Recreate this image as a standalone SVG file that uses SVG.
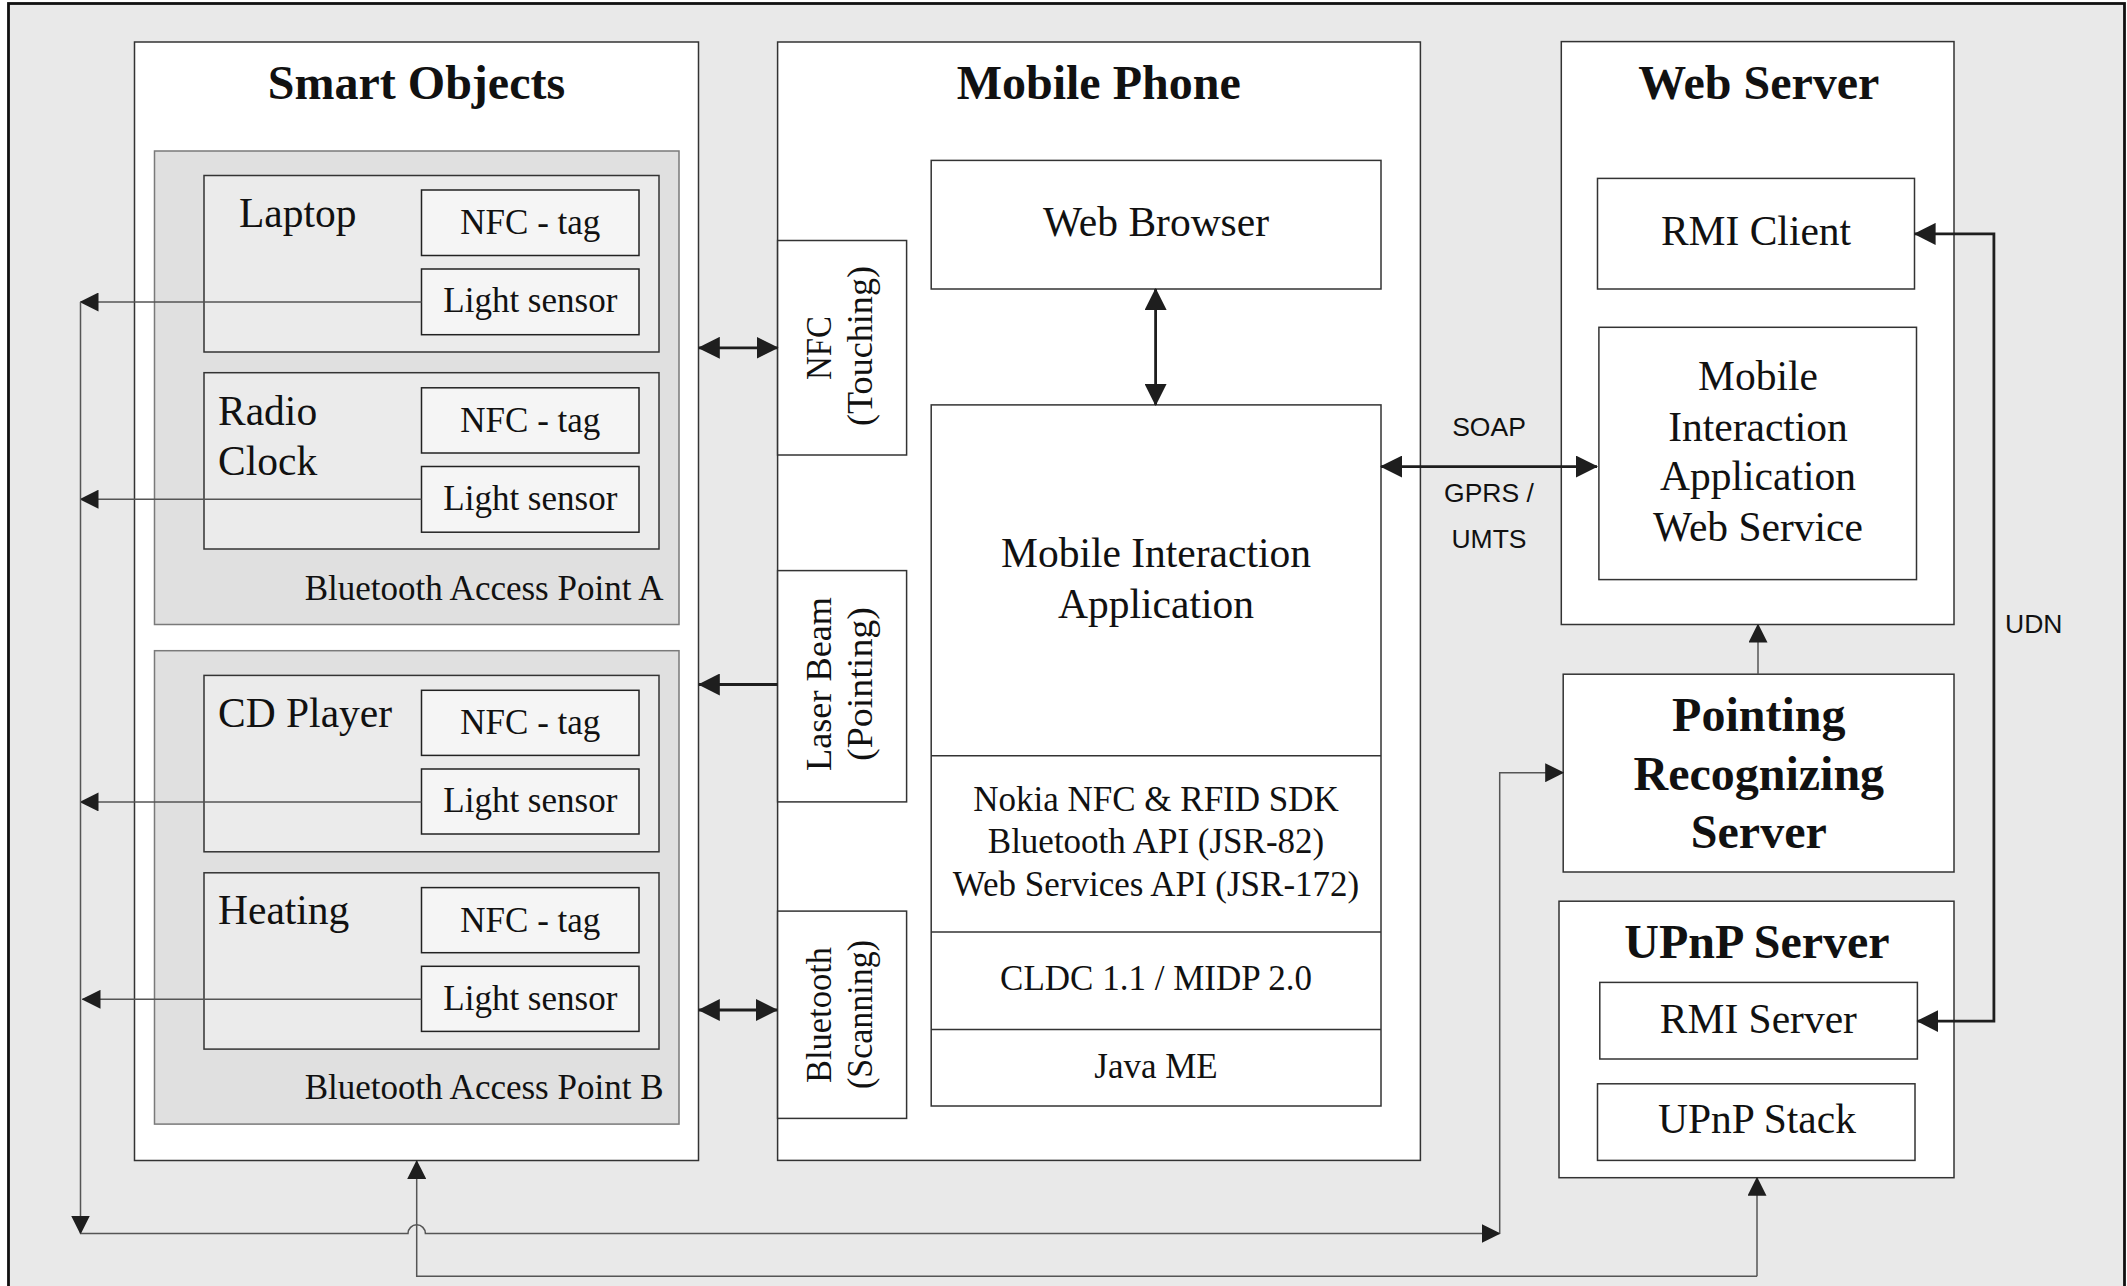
<svg xmlns="http://www.w3.org/2000/svg" width="2127" height="1286" viewBox="0 0 2127 1286">
<style>
.box{fill:#fff;stroke:#333;stroke-width:1.5}
.bap{fill:#e0e0e0;stroke:#7a7a7a;stroke-width:1.5}
.dev{fill:#ebebeb;stroke:#333;stroke-width:1.5}
.comp{fill:#f5f5f5;stroke:#222;stroke-width:1.5}
.t{font-family:"Liberation Serif","Times New Roman",serif;fill:#111}
.title{font-weight:bold;font-size:48px;text-anchor:middle}
.lg{font-size:41.5px}
.md{font-size:35px}
.mid{text-anchor:middle}
.end{text-anchor:end}
.sans{font-family:"Liberation Sans",Arial,sans-serif;font-size:26.5px;fill:#111}
.thin{fill:none;stroke:#555;stroke-width:1.5}
.thick{fill:none;stroke:#1e1e1e;stroke-width:2.8}
.sep{stroke:#333;stroke-width:1.5}
</style>
<defs>
<marker id="ah" markerUnits="userSpaceOnUse" viewBox="0 0 22 22" refX="21" refY="11" markerWidth="22" markerHeight="22" orient="auto-start-reverse">
<path d="M0,0 L22,11 L0,22 z" fill="#1e1e1e"/>
</marker>
<marker id="as" markerUnits="userSpaceOnUse" viewBox="0 0 19 19" refX="18" refY="9.5" markerWidth="19" markerHeight="19" orient="auto-start-reverse">
<path d="M0,0 L19,9.5 L0,19 z" fill="#1e1e1e"/>
</marker>
</defs>

<g id="background">
<rect x="0" y="0" width="2127" height="1286" fill="#fff"/>
<rect x="8.5" y="3.5" width="2116" height="1300" fill="#e9e9e9" stroke="#111" stroke-width="2.8"/>
</g>

<g id="smart-objects">
<rect class="box" x="134.5" y="42" width="564" height="1118.5"/>
<text class="t title" x="416.5" y="99">Smart Objects</text>
</g>

<g id="bap-a">
<rect class="bap" x="154.5" y="151" width="524.5" height="473.5"/>
<text class="t md end" x="663.5" y="600">Bluetooth Access Point A</text>
</g>
<g id="laptop">
<rect class="dev" x="204" y="175.5" width="455" height="176.5"/>
<text class="t lg" x="239" y="227">Laptop</text>
<rect class="comp" x="421.5" y="190" width="217.5" height="65.5"/>
<text class="t md mid" x="530.3" y="234">NFC - tag</text>
<rect class="comp" x="421.5" y="269" width="217.5" height="65.7"/>
<text class="t md mid" x="530.3" y="312">Light sensor</text>
</g>
<g id="radio-clock">
<rect class="dev" x="204" y="372.7" width="455" height="176.3"/>
<text class="t lg" x="218" y="424.5">Radio</text>
<text class="t lg" x="218" y="474.7">Clock</text>
<rect class="comp" x="421.5" y="387.8" width="217.5" height="65.2"/>
<text class="t md mid" x="530.3" y="431.8">NFC - tag</text>
<rect class="comp" x="421.5" y="466.5" width="217.5" height="65.7"/>
<text class="t md mid" x="530.3" y="509.7">Light sensor</text>
</g>

<g id="bap-b">
<rect class="bap" x="154.5" y="650.7" width="524.5" height="473.4"/>
<text class="t md end" x="663.5" y="1099.4">Bluetooth Access Point B</text>
</g>
<g id="cd-player">
<rect class="dev" x="204" y="675.4" width="455" height="176.4"/>
<text class="t lg" x="218" y="726.5">CD Player</text>
<rect class="comp" x="421.5" y="690.3" width="217.5" height="65.1"/>
<text class="t md mid" x="530.3" y="734.3">NFC - tag</text>
<rect class="comp" x="421.5" y="769" width="217.5" height="65"/>
<text class="t md mid" x="530.3" y="812">Light sensor</text>
</g>
<g id="heating">
<rect class="dev" x="204" y="872.8" width="455" height="176.3"/>
<text class="t lg" x="218" y="923.5">Heating</text>
<rect class="comp" x="421.5" y="887.6" width="217.5" height="65.1"/>
<text class="t md mid" x="530.3" y="931.6">NFC - tag</text>
<rect class="comp" x="421.5" y="966.3" width="217.5" height="65.1"/>
<text class="t md mid" x="530.3" y="1009.5">Light sensor</text>
</g>

<g id="mobile-phone">
<rect class="box" x="777.6" y="42" width="642.8" height="1118.4"/>
<text class="t title" x="1098.7" y="99">Mobile Phone</text>
</g>
<g id="web-browser">
<rect class="box" x="931.2" y="160.4" width="449.8" height="128.6"/>
<text class="t lg mid" x="1156" y="236">Web Browser</text>
</g>
<g id="mobile-interaction-application">
<rect class="box" x="931.2" y="404.9" width="449.8" height="701.1"/>
<line class="sep" x1="931.2" y1="755.8" x2="1381" y2="755.8"/>
<line class="sep" x1="931.2" y1="932.1" x2="1381" y2="932.1"/>
<line class="sep" x1="931.2" y1="1029.4" x2="1381" y2="1029.4"/>
<text class="t lg mid" x="1156" y="566.5">Mobile Interaction</text>
<text class="t lg mid" x="1156" y="618.4">Application</text>
<text class="t md mid" x="1156" y="811">Nokia NFC &amp; RFID SDK</text>
<text class="t md mid" x="1156" y="853.4">Bluetooth API (JSR-82)</text>
<text class="t md mid" x="1156" y="895.5">Web Services API (JSR-172)</text>
<text class="t md mid" x="1156" y="990.2">CLDC 1.1 / MIDP 2.0</text>
<text class="t md mid" x="1156" y="1078">Java ME</text>
</g>
<g id="nfc-touching">
<rect class="box" x="777.6" y="240.5" width="129" height="214.5"/>
<text class="t md mid" transform="translate(831,348) rotate(-90)" textLength="64" lengthAdjust="spacingAndGlyphs">NFC</text>
<text class="t md mid" transform="translate(872,346) rotate(-90)" textLength="160" lengthAdjust="spacingAndGlyphs">(Touching)</text>
</g>
<g id="laser-beam-pointing">
<rect class="box" x="777.6" y="570.6" width="129" height="231.3"/>
<text class="t md mid" transform="translate(831,684) rotate(-90)" textLength="174" lengthAdjust="spacingAndGlyphs">Laser Beam</text>
<text class="t md mid" transform="translate(872,684) rotate(-90)" textLength="154" lengthAdjust="spacingAndGlyphs">(Pointing)</text>
</g>
<g id="bluetooth-scanning">
<rect class="box" x="777.6" y="911.1" width="129" height="207.3"/>
<text class="t md mid" transform="translate(831,1015) rotate(-90)" textLength="136" lengthAdjust="spacingAndGlyphs">Bluetooth</text>
<text class="t md mid" transform="translate(872,1014.5) rotate(-90)" textLength="149" lengthAdjust="spacingAndGlyphs">(Scanning)</text>
</g>

<g id="web-server">
<rect class="box" x="1561.3" y="41.6" width="392.7" height="582.9"/>
<text class="t title" x="1758.8" y="99">Web Server</text>
</g>
<g id="rmi-client">
<rect class="box" x="1597.5" y="178.4" width="317" height="110.6"/>
<text class="t lg mid" x="1756" y="245">RMI Client</text>
</g>
<g id="mobile-interaction-web-service">
<rect class="box" x="1598.9" y="327.3" width="317.6" height="252.3"/>
<text class="t lg mid" x="1758" y="389.8">Mobile</text>
<text class="t lg mid" x="1758" y="440.8">Interaction</text>
<text class="t lg mid" x="1758" y="489.8">Application</text>
<text class="t lg mid" x="1758" y="540.8">Web Service</text>
</g>
<g id="pointing-recognizing-server">
<rect class="box" x="1563.2" y="674.2" width="390.8" height="197.8"/>
<text class="t title" x="1758.8" y="730.6">Pointing</text>
<text class="t title" x="1758.8" y="790.4">Recognizing</text>
<text class="t title" x="1758.8" y="848">Server</text>
</g>
<g id="upnp-server">
<rect class="box" x="1559" y="901.2" width="395" height="276.5"/>
<text class="t title" x="1757" y="958.1">UPnP Server</text>
</g>
<g id="rmi-server">
<rect class="box" x="1599.8" y="982.4" width="317.6" height="76.6"/>
<text class="t lg mid" x="1758.4" y="1032.7">RMI Server</text>
</g>
<g id="upnp-stack">
<rect class="box" x="1597.5" y="1083.8" width="317.5" height="76.6"/>
<text class="t lg mid" x="1757" y="1133.2">UPnP Stack</text>
</g>

<g id="connectors">
<path class="thin" d="M421.5,302 H80.5" marker-end="url(#as)"/>
<path class="thin" d="M421.5,499.2 H80.5" marker-end="url(#as)"/>
<path class="thin" d="M421.5,801.9 H80.5" marker-end="url(#as)"/>
<path class="thin" d="M421.5,999.3 H82.5" marker-end="url(#as)"/>
<path class="thin" d="M80.5,302 V1233.5" marker-end="url(#as)"/>
<path class="thin" d="M80.5,1233.5 H408 A8.7,8.7 0 0 1 425.4,1233.5 H1499.7" marker-end="url(#as)"/>
<path class="thin" d="M1499.7,1233.5 V772.7 H1563.2" marker-end="url(#as)"/>
<path class="thin" d="M1757,1276.3 H416.7 V1161" marker-end="url(#as)"/>
<path class="thin" d="M1757,1276.3 V1177.7" marker-end="url(#as)"/>
<path class="thin" d="M1758,674.2 V624.5" marker-end="url(#as)"/>
<path class="thick" d="M698.8,347.8 H777.6" marker-start="url(#ah)" marker-end="url(#ah)"/>
<path class="thick" d="M777.6,684.5 H698.8" marker-end="url(#ah)"/>
<path class="thick" d="M698.8,1010 H777" marker-start="url(#ah)" marker-end="url(#ah)"/>
<path class="thick" d="M1155.6,289 V404.9" marker-start="url(#ah)" marker-end="url(#ah)"/>
<path class="thick" d="M1381,466.6 H1597" marker-start="url(#ah)" marker-end="url(#ah)"/>
<path class="thick" d="M1914.6,233.9 H1993.9 V1021.1 H1917.4" marker-start="url(#ah)" marker-end="url(#ah)"/>
</g>

<g id="connector-labels">
<text class="sans" x="1489" y="435.7" text-anchor="middle">SOAP</text>
<text class="sans" x="1489" y="501.7" text-anchor="middle">GPRS /</text>
<text class="sans" x="1489" y="548.3" text-anchor="middle">UMTS</text>
<text class="sans" x="2005" y="632.7">UDN</text>
</g>
</svg>
